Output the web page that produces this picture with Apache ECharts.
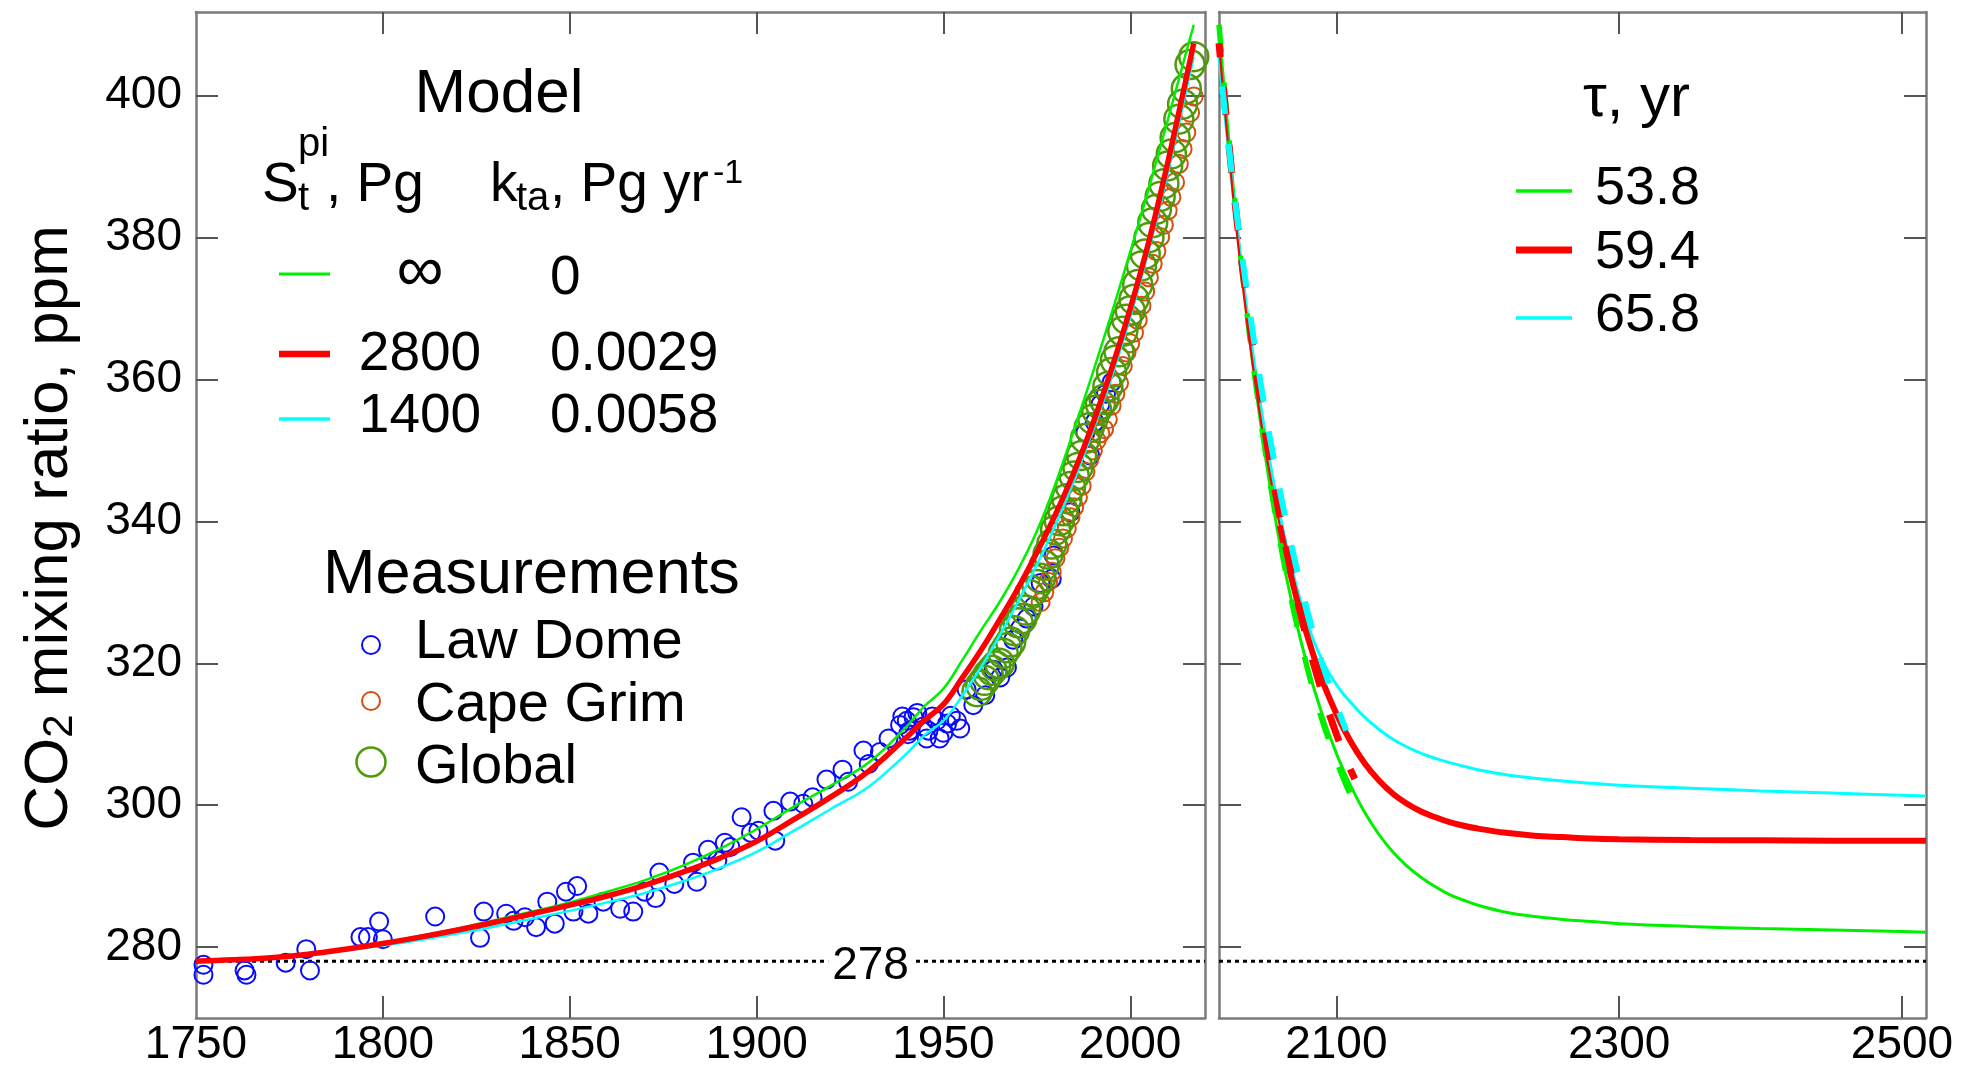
<!DOCTYPE html>
<html><head><meta charset="utf-8">
<script src="https://cdn.jsdelivr.net/npm/echarts@6/dist/echarts.min.js"></script>
<style>html,body{margin:0;padding:0;background:#fff}#c{width:1984px;height:1068px}</style>
</head><body><div id="c"></div>
<script>
const FONT = '"Liberation Sans", Arial, Helvetica, sans-serif';

// ---------- axes ----------
const yTickVals = [280, 300, 320, 340, 360, 380, 400];
const histLabelVals = [1750, 1800, 1850, 1900, 1950, 2000];
const histTickVals = [1800, 1850, 1900, 1950, 2000];
const futTickVals = [2100, 2300, 2500];
const preIndustrial = 278;
const preIndustrialLabelYear = 1930.5;

// ---------- model curves, historical panel ----------
const modelInfHist = [[1750,278.0],[1760,278.2],[1770,278.6],[1780,279.1],[1790,279.8],[1800,280.6],[1810,281.6],[1820,282.6],[1830,283.8],[1840,285.0],[1850,286.3],[1860,287.8],[1870,289.4],[1880,291.4],[1890,293.8],[1900,296.6],[1910,299.8],[1920,302.8],[1930,306.0],[1940,311.0],[1945,314.0],[1950,316.4],[1955,320.4],[1960,324.6],[1965,328.6],[1970,333.2],[1975,338.6],[1980,345.3],[1985,353.0],[1990,361.0],[1995,369.3],[2000,378.0],[2005,387.0],[2010,396.5],[2015,406.2],[2017,410.0]];
const model2800Hist = [[1750,278.0],[1760,278.2],[1770,278.5],[1780,279.0],[1790,279.7],[1800,280.5],[1810,281.4],[1820,282.4],[1830,283.5],[1840,284.7],[1850,285.9],[1860,287.2],[1870,288.7],[1880,290.5],[1890,292.5],[1900,294.9],[1910,298.0],[1920,301.2],[1930,304.8],[1940,309.5],[1945,312.0],[1950,314.2],[1955,317.9],[1960,321.8],[1965,326.1],[1970,330.6],[1975,335.6],[1980,341.0],[1985,347.0],[1990,353.8],[1995,361.5],[2000,370.0],[2005,379.5],[2010,390.5],[2015,402.5],[2017,407.4]];
const model1400Hist = [[1750,278.0],[1760,278.2],[1770,278.5],[1780,278.9],[1790,279.5],[1800,280.2],[1810,281.0],[1820,281.9],[1830,282.9],[1840,284.0],[1850,285.1],[1860,286.3],[1870,287.6],[1880,289.2],[1890,291.1],[1900,293.4],[1910,296.4],[1920,299.5],[1930,302.6],[1940,307.2],[1945,309.9],[1950,311.9],[1955,315.4],[1960,319.4],[1965,323.9],[1970,328.7],[1975,333.9],[1980,339.5],[1985,345.8],[1990,352.8],[1995,360.3],[2000,368.8],[2005,378.3],[2010,389.0],[2015,400.8],[2017,405.5]];

// ---------- measurements ----------
const lawDomeYears = [1752,1752,1763,1763.5,1774,1779.5,1780.5,1794,1796,1799,1800,1814,1826,1827,1833,1835,1838,1841,1844,1846,1849,1851,1852,1855,1859,1863.5,1867,1870,1873,1874,1878,1883,1884,1887,1889.5,1891.5,1893,1896,1898.5,1900.5,1904.5,1905,1909,1912.5,1915,1918.7,1923,1924.5,1928.6,1930,1933,1935.3,1938.4,1939,1940.2,1940.5,1941,1942,1943,1944.6,1945.5,1946,1947,1948.2,1949,1950,1951,1952,1953.6,1954.5,1956.2,1958,1961.2,1963.4,1965.2,1967,1968.7,1970.5,1972.3,1974.1,1976,1979,1979.5,1984,1988,1989.3,1990.5,1992,1993.5,1995];
const lawDomePpm = [276.1,277.5,276.7,276.1,277.8,279.7,276.7,281.4,281.4,283.6,281.1,284.3,281.3,285.0,284.7,283.7,284.2,282.8,286.4,283.3,287.8,285.0,288.6,284.7,286.4,285.4,285.0,287.8,286.9,290.5,288.9,291.9,289.2,293.7,292.2,294.7,294.1,298.3,296.1,296.4,299.2,295.0,300.5,300.2,301.1,303.6,305.0,303.3,307.7,305.8,307.5,309.4,311.3,312.5,311.9,310.0,310.5,312.4,313.0,311.1,309.4,310.5,312.5,311.9,309.4,310.2,311.5,312.6,311.9,310.8,316.3,314.1,315.5,319.1,318.0,319.4,323.3,324.9,326.3,328.0,331.3,331.9,335.2,341.3,352.5,349.3,354.0,356.5,358.0,359.6];
const capeGrimYears = [1976,1977,1978,1979,1980,1981,1982,1983,1984,1985,1986,1987,1988,1989,1990,1991,1992,1993,1994,1995,1996,1997,1998,1999,2000,2001,2002,2003,2004,2005,2006,2007,2008,2009,2010,2011,2012,2013,2014,2015,2016,2017];
const capeGrimPpm = [328.6,330.0,331.5,332.9,334.8,336.3,337.6,339.0,340.6,342.0,343.4,345.0,347.0,348.7,350.0,351.4,352.4,353.0,354.4,356.3,358.0,359.5,361.9,363.8,365.1,366.6,368.4,370.4,372.4,374.4,376.3,378.1,380.1,381.8,383.8,385.7,387.8,390.4,392.5,394.8,397.6,399.9];
const globalYears = [1959,1960,1961,1962,1963,1964,1965,1966,1967,1968,1969,1970,1971,1972,1973,1974,1975,1976,1977,1978,1979,1980,1981,1982,1983,1984,1985,1986,1987,1988,1989,1990,1991,1992,1993,1994,1995,1996,1997,1998,1999,2000,2001,2002,2003,2004,2005,2006,2007,2008,2009,2010,2011,2012,2013,2014,2015,2016,2017];
const globalPpm = [316.0,316.9,317.6,318.4,319.0,319.6,320.0,321.4,322.2,323.0,324.6,325.7,326.3,327.5,329.7,330.2,331.1,332.0,333.8,335.4,336.8,338.8,340.1,341.5,343.2,344.9,346.4,347.6,349.3,351.7,353.2,354.4,355.7,356.5,357.2,359.0,361.0,362.7,363.9,366.8,368.5,369.7,371.3,373.4,376.0,377.7,380.0,382.1,384.0,385.8,387.6,390.1,391.8,394.1,396.7,398.8,401.0,404.4,405.5];

// ---------- future panel ----------
const modelInfFut = [[2017,410.0],[2020,402.6],[2030,381.2],[2040,363.5],[2050,348.9],[2060,336.9],[2070,327.2],[2080,319.3],[2090,312.8],[2100,307.3],[2110,302.8],[2120,299.0],[2130,295.9],[2140,293.4],[2150,291.4],[2160,289.8],[2170,288.5],[2180,287.4],[2190,286.6],[2200,285.9],[2220,284.9],[2240,284.3],[2260,283.9],[2280,283.6],[2300,283.3],[2350,282.9],[2400,282.6],[2450,282.4],[2500,282.2],[2517,282.1]];
const model2800FutEarly = [[2017,407.4],[2020,400.5],[2030,380.0],[2040,363.4],[2050,350.0],[2060,339.4],[2065,334.8]];
const model2800Fut = [[2060,339.4],[2070,330.6],[2080,323.5],[2090,317.6],[2100,312.9],[2110,309.0],[2120,305.9],[2130,303.5],[2140,301.6],[2150,300.2],[2160,299.1],[2170,298.3],[2180,297.6],[2190,297.1],[2200,296.7],[2220,296.1],[2240,295.7],[2260,295.5],[2280,295.3],[2300,295.2],[2350,295.1],[2400,295.05],[2450,295.0],[2500,295.0],[2517,295.0]];
const model1400Fut = [[2017,405.5],[2020,399.5],[2030,380.8],[2040,365.0],[2050,351.9],[2060,341.0],[2070,332.2],[2080,325.3],[2090,320.4],[2100,317.0],[2110,314.5],[2120,312.4],[2130,310.7],[2140,309.3],[2150,308.2],[2160,307.3],[2170,306.6],[2180,306.0],[2190,305.5],[2200,305.0],[2220,304.3],[2240,303.8],[2260,303.4],[2280,303.1],[2300,302.8],[2350,302.4],[2400,302.0],[2450,301.7],[2500,301.4],[2517,301.3]];
const tau538 = [[2017,410.0],[2027,387.6],[2037,369.0],[2047,353.6],[2057,340.8],[2067,330.1],[2077,321.3],[2087,313.9],[2097,307.9],[2107,302.8],[2117,298.6]];
const tau594 = [[2017,407.4],[2027,387.4],[2037,370.4],[2047,356.1],[2057,344.0],[2067,333.8],[2077,325.1],[2087,317.8],[2097,311.7],[2107,306.4],[2113,303.7]];
const tau658 = [[2017,405.5],[2027,387.5],[2037,372.1],[2047,358.8],[2057,347.5],[2067,337.7],[2077,329.3],[2087,322.0],[2097,315.8],[2107,310.5]];

// ---------- colours ----------
const GREEN = '#00f000', RED = '#ff0000', CYAN = '#00ffff';
const BLUE = '#0a0aff', ORANGE = '#d4500f', OLIVE = '#4f9a0c';
const FRAME = '#7a7a7a', TICK = '#555555';

const zip = (a, b) => a.map((v, i) => [v, b[i]]);
const fmt = v => String(v);
const TICKFONT = 46;

function xAx(grid, min, max, pos, ticks, labels) {
  return {
    type: 'value', gridIndex: grid, min, max, position: pos,
    axisLine: { show: true, onZero: false, lineStyle: { color: FRAME, width: 2.5 } },
    axisTick: { show: true, inside: true, length: 22, customValues: ticks, lineStyle: { color: TICK, width: 2 } },
    axisLabel: labels ? { show: true, customValues: labels, formatter: fmt, fontSize: TICKFONT, fontFamily: FONT, color: '#000', margin: 4 } : { show: false },
    splitLine: { show: false }
  };
}
function yAx(grid, pos, labels) {
  return {
    type: 'value', gridIndex: grid, min: 270, max: 411.8, position: pos,
    axisLine: { show: true, onZero: false, lineStyle: { color: FRAME, width: 2.5 } },
    axisTick: { show: true, inside: true, length: 22, customValues: yTickVals, lineStyle: { color: TICK, width: 2 } },
    axisLabel: labels ? { show: true, customValues: yTickVals, formatter: fmt, fontSize: TICKFONT, fontFamily: FONT, color: '#000', margin: 14 } : { show: false },
    splitLine: { show: false }
  };
}

function line(name, data, xi, color, width, extra) {
  return Object.assign({
    name, type: 'line', data, xAxisIndex: xi, yAxisIndex: xi, showSymbol: false, symbol: 'none',
    smooth: 0.4, lineStyle: { color, width }, z: 5, silent: true
  }, extra || {});
}
function dashed(name, data, color, width, offset, z) {
  return line(name, data, 1, color, width, { lineStyle: { color, width, type: [28, 30], dashOffset: offset }, z });
}
function scat(name, data, color, size, bw, z) {
  return {
    name, type: 'scatter', data, xAxisIndex: 0, yAxisIndex: 0, symbol: 'circle', symbolSize: size,
    itemStyle: { color: 'rgba(0,0,0,0)', borderColor: color, borderWidth: bw, opacity: 1 }, z, silent: true
  };
}

const T = (text, x, base, size, align) => ({
  type: 'text', x, y: base - 0.3465 * size, z: 100,
  style: { text, fontSize: size, fontFamily: FONT, fill: '#000', align: align || 'left', verticalAlign: 'middle' }
});
const L = (x1, x2, y, color, w) => ({ type: 'line', z: 100, shape: { x1, y1: y, x2, y2: y }, style: { stroke: color, lineWidth: w } });
const C = (cx, cy, r, color, w) => ({ type: 'circle', z: 100, shape: { cx, cy, r }, style: { fill: 'none', stroke: color, lineWidth: w } });

const chart = echarts.init(document.getElementById('c'), null, { renderer: 'canvas' });
chart.setOption({
  animation: false,
  backgroundColor: '#fff',
  grid: [
    { left: 196, top: 12, width: 1009, height: 1007 },
    { left: 1219, top: 12, width: 707, height: 1007 }
  ],
  xAxis: [
    xAx(0, 1750, 2020, 'bottom', histTickVals, histLabelVals),
    xAx(1, 2017, 2517, 'bottom', futTickVals, futTickVals),
    xAx(0, 1750, 2020, 'top', histTickVals, null),
    xAx(1, 2017, 2517, 'top', futTickVals, null)
  ],
  yAxis: [yAx(0, 'left', true), yAx(1, 'left', false), yAx(0, 'right', false), yAx(1, 'right', false)],
  series: [
    line('pi-hist', [[1750, preIndustrial], [2020, preIndustrial]], 0, '#000', 3, { smooth: false, lineStyle: { color: '#000', width: 3, type: [4, 4] }, z: 1 }),
    line('pi-fut', [[2017, preIndustrial], [2517, preIndustrial]], 1, '#000', 3, { smooth: false, lineStyle: { color: '#000', width: 3, type: [4, 4] }, z: 1 }),
    {
      type: 'scatter', xAxisIndex: 0, yAxisIndex: 0, data: [[preIndustrialLabelYear, preIndustrial]], symbolSize: 1,
      itemStyle: { color: 'rgba(0,0,0,0)', opacity: 1 }, z: 2, silent: true,
      label: { show: true, position: 'inside', formatter: String(preIndustrial), fontSize: TICKFONT, fontFamily: FONT, color: '#000', textBorderWidth: 0, opacity: 1, backgroundColor: '#fff', padding: [0, 4], offset: [0, 5] }
    },
    scat('Law Dome', zip(lawDomeYears, lawDomePpm), BLUE, 18, 2, 3),
    scat('Cape Grim', zip(capeGrimYears, capeGrimPpm), ORANGE, 18, 2, 3),
    scat('Global', zip(globalYears, globalPpm), OLIVE, 29, 2.5, 4),
    line('inf', modelInfHist, 0, GREEN, 2.5),
    line('1400', model1400Hist, 0, CYAN, 2.5),
    line('2800', model2800Hist, 0, RED, 5.5),
    line('inf-f', modelInfFut, 1, GREEN, 3),
    line('1400-f', model1400Fut, 1, CYAN, 3),
    line('2800-f-early', model2800FutEarly, 1, RED, 2.2),
    line('2800-f', model2800Fut, 1, RED, 6),
    dashed('tau53.8', tau538, GREEN, 5.5, 0, 6),
    dashed('tau59.4', tau594, RED, 7, 14, 6),
    dashed('tau65.8', tau658, CYAN, 6, 28, 7)
  ],
  graphic: [
    {
      type: 'text', x: 50, y: 528, rotation: Math.PI / 2, z: 100,
      style: {
        text: '{a|CO}{b|2}{a| mixing ratio, ppm}', align: 'center', verticalAlign: 'middle',
        rich: { a: { fontSize: 62, fontFamily: FONT, fill: '#000', lineHeight: 62 }, b: { fontSize: 42, fontFamily: FONT, fill: '#000', lineHeight: 34, verticalAlign: 'bottom' } }
      }
    },
    // Model legend
    T('Model', 499, 116, 62, 'center'),
    T('S', 262, 205, 55), T('t', 298, 213, 40), T('pi', 298, 159, 40), T(', Pg', 326, 205, 55),
    T('k', 490, 205, 55), T('ta', 516, 213, 40), T(', Pg yr', 550, 205, 55), T('-1', 713, 185, 34),
    L(279, 330, 274, GREEN, 3), T('\u221e', 420, 296, 66, 'center'), T('0', 550, 298, 55),
    L(279, 330, 354, RED, 6.5), T('2800', 420, 374, 55, 'center'), T('0.0029', 550, 374, 55),
    L(279, 330, 419, CYAN, 3.5), T('1400', 420, 436, 55, 'center'), T('0.0058', 550, 436, 55),
    // Measurements legend
    T('Measurements', 323, 597, 63),
    C(371, 645, 9, BLUE, 2), T('Law Dome', 415, 662, 56),
    C(371, 701, 9, ORANGE, 2), T('Cape Grim', 415, 725, 56),
    C(371, 762, 14.5, OLIVE, 2.5), T('Global', 415, 787, 56),
    // tau legend
    T('\u03c4, yr', 1583, 120, 60),
    L(1516, 1572, 191, GREEN, 3.5), T('53.8', 1595, 208, 54),
    L(1516, 1572, 250, RED, 7), T('59.4', 1595, 272, 54),
    L(1516, 1572, 318, CYAN, 3.5), T('65.8', 1595, 335, 54)
  ]
});
</script></body></html>
